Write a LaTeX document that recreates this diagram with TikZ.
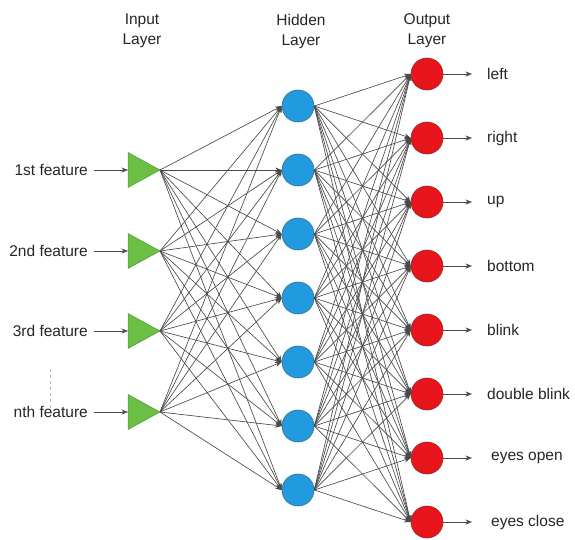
\documentclass[tikz,border=0pt]{standalone}
\usepackage{fontspec}
\setmainfont{Liberation Sans}
\usetikzlibrary{arrows.meta}
\definecolor{tgreen}{HTML}{6CBF45}
\definecolor{tgreenb}{HTML}{4E9A35}
\definecolor{hblue}{HTML}{1F9BDE}
\definecolor{hblueb}{HTML}{2A6E9A}
\definecolor{ored}{HTML}{E8161C}
\definecolor{oredb}{HTML}{9A2020}
\definecolor{conng}{HTML}{4A4A4A}
\tikzset{
  x=1pt, y=-1pt,
  lbl/.style={font=\fontsize{15.5}{20}\selectfont, text=black!85, inner sep=0pt},
  hid/.style={circle, fill=hblue, draw=hblueb, line width=0.6pt, minimum size=32pt, inner sep=0pt},
  outn/.style={circle, fill=ored, draw=oredb, line width=0.6pt, minimum size=32pt, inner sep=0pt},
  tri/.style={fill=tgreen, draw=tgreenb, line width=0.5pt},
  conn/.style={draw=conng, line width=0.65pt, -{Stealth[length=6.5pt,width=5pt]}},
}
\begin{document}
\begin{tikzpicture}
\useasboundingbox (0,0) rectangle (575,539);
\fill[white] (0,0) rectangle (575,539);

% headers
\node[lbl, align=center] (hin) at (142,31) {Input\\Layer};
\node[lbl, align=center] (hhid) at (301,31) {Hidden\\Layer};
\node[lbl, align=center] (hout) at (427,31) {Output\\Layer};

% input triangles
\foreach \i/\y/\t in {1/170/1st feature, 2/251/2nd feature, 3/331/3rd feature, 4/412/nth feature} {
  \path[tri] (128,\y-17.5) -- (160,\y) -- (128,\y+17.5) -- cycle;
  \coordinate (in\i) at (160,\y);
  \coordinate (inw\i) at (128,\y);
  \node[lbl, anchor=east] (il\i) at (88,\y) {\t};
  \draw[conn] (il\i.east) ++(6,0) coordinate (ils\i) (ils\i) -- (inw\i);
}
\draw[black!25, dashed, line width=0.5pt] (50,369) -- (50,409);

% hidden nodes
\foreach \j/\y in {1/106, 2/170, 3/234, 4/298, 5/362, 6/426, 7/490} {
  \node[hid] (h\j) at (298,\y) {};
}
% output nodes
\foreach \k/\y/\t/\xo in {1/74/left/487, 2/138/right/487, 3/202/up/487, 4/266/bottom/487, 5/330/blink/487, 6/394/double blink/487, 7/458/eyes open/491, 8/522/eyes close/491} {
  \node[outn] (o\k) at (427,\y) {};
  \coordinate (oa\k) at (472,\y);
  \node[lbl, anchor=west] (ol\k) at (\xo,\y) {\t};
}

% connections
\foreach \i in {1,...,4} {
  \foreach \j in {1,...,7} {
    \draw[conn] (in\i) -- (h\j.west);
  }
}
\foreach \j in {1,...,7} {
  \foreach \k in {1,...,8} {
    \draw[conn] (h\j.east) -- (o\k.west);
  }
}
\foreach \k in {1,...,8} {
  \draw[conn] (o\k.east) -- (oa\k);
}
\end{tikzpicture}
\end{document}
